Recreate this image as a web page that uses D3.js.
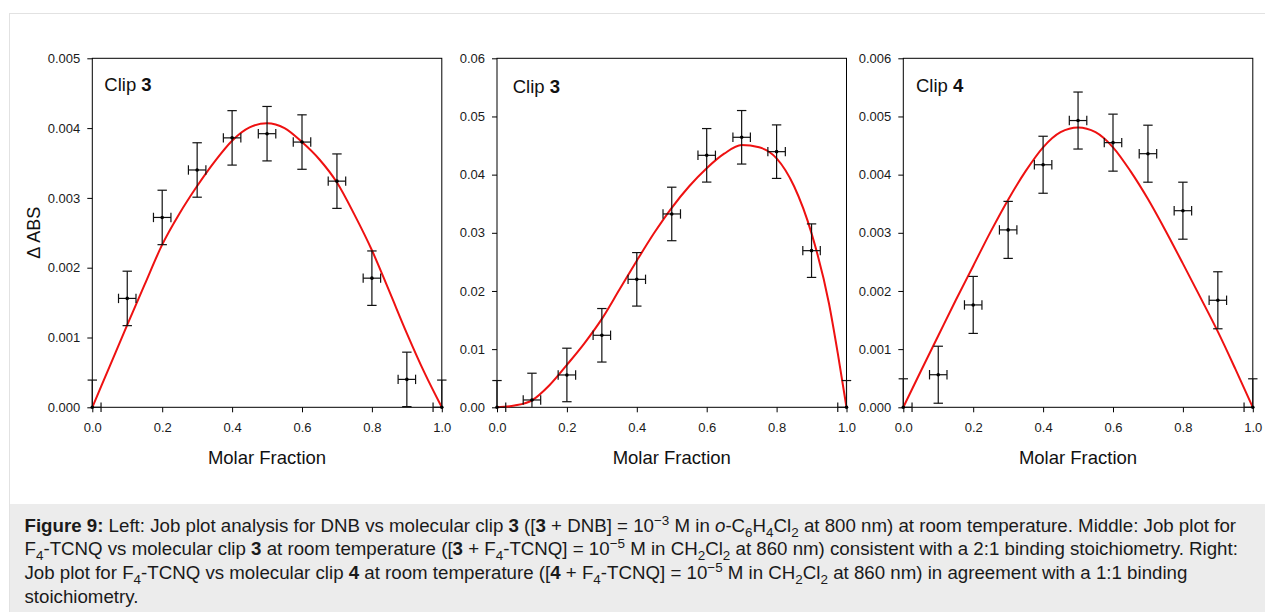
<!DOCTYPE html>
<html><head><meta charset="utf-8">
<script src="https://cdn.jsdelivr.net/npm/d3@7"></script>
<style>
body{margin:0;background:#fff;font-family:"Liberation Sans",Arial,sans-serif;overflow:hidden;}
#frame{position:absolute;left:9px;top:13px;width:1260px;height:605px;border-left:1px solid #e2e2e2;border-top:1px solid #e2e2e2;}
#caption{position:absolute;left:10px;top:504px;width:1255px;height:108px;background:#ececec;}
#captext{position:absolute;left:14.5px;top:9.7px;font-size:18.7px;line-height:23.7px;color:#1a1a1a;white-space:nowrap;}
#captext sup,#captext sub{font-size:72%;line-height:0;}
svg{position:absolute;left:0;top:0;}
</style></head><body>
<div id="frame"></div>
<div id="caption"><div id="captext"><b>Figure 9:</b> Left: Job plot analysis for DNB vs molecular clip <b>3</b> ([<b>3</b> + DNB] = 10<sup>−3</sup> M in <i>o</i>-C<sub>6</sub>H<sub>4</sub>Cl<sub>2</sub> at 800 nm) at room temperature. Middle: Job plot for<br>F<sub>4</sub>-TCNQ vs molecular clip <b>3</b> at room temperature ([<b>3</b> + F<sub>4</sub>-TCNQ] = 10<sup>−5</sup> M in CH<sub>2</sub>Cl<sub>2</sub> at 860 nm) consistent with a 2:1 binding stoichiometry. Right:<br>Job plot for F<sub>4</sub>-TCNQ vs molecular clip <b>4</b> at room temperature ([<b>4</b> + F<sub>4</sub>-TCNQ] = 10<sup>−5</sup> M in CH<sub>2</sub>Cl<sub>2</sub> at 860 nm) in agreement with a 1:1 binding<br>stoichiometry.</div></div>
<svg id="chart" width="1265" height="612"></svg>
<script>
// ---------- DATA ----------
const molarFraction = [0, 0.1, 0.2, 0.3, 0.4, 0.5, 0.6, 0.7, 0.8, 0.9, 1.0];
const xError = [0.025, 0.025, 0.025, 0.025, 0.025, 0.025, 0.025, 0.025, 0.025, 0.025, 0.025];

// Left: DNB vs clip 3
const absDNBClip3 = [0, 0.00156, 0.00272, 0.00340, 0.00386, 0.00392, 0.00380, 0.00324, 0.00185, 0.00040, 0];
const errDNBClip3 = [0.00039, 0.00039, 0.00039, 0.00039, 0.00039, 0.00039, 0.00039, 0.00039, 0.00039, 0.00039, 0.00039];
// Middle: F4-TCNQ vs clip 3
const absF4Clip3 = [0, 0.00126, 0.00556, 0.01238, 0.0220, 0.03324, 0.04332, 0.04642, 0.04395, 0.02693, 0];
const errF4Clip3 = [0.0046, 0.0046, 0.0046, 0.0046, 0.0046, 0.0046, 0.0046, 0.0046, 0.0046, 0.0046, 0.0046];
// Right: F4-TCNQ vs clip 4
const absF4Clip4 = [0, 0.00056, 0.00176, 0.00305, 0.00417, 0.00493, 0.00455, 0.00436, 0.00338, 0.00184, 0];
const errF4Clip4 = [0.00049, 0.00049, 0.00049, 0.00049, 0.00049, 0.00049, 0.00049, 0.00049, 0.00049, 0.00049, 0.00049];

// Fitted curves
const fitX1 = [0, 0.05, 0.1, 0.15, 0.2, 0.25, 0.3, 0.35, 0.4, 0.45, 0.5, 0.55, 0.6, 0.65, 0.7, 0.75, 0.8, 0.85, 0.9, 0.95, 1.0];
const fitDNBClip3 = [0, 0.00059, 0.00118, 0.00176, 0.00233, 0.00278, 0.00317, 0.00352, 0.00382, 0.00401, 0.00407, 0.00400, 0.00380, 0.00355, 0.00322, 0.00276, 0.00225, 0.00166, 0.00106, 0.00050, 0];
const fitX2 = [0, 0.05, 0.1, 0.15, 0.2, 0.25, 0.3, 0.35, 0.4, 0.45, 0.5, 0.55, 0.6, 0.65, 0.7, 0.75, 0.8, 0.85, 0.9, 0.95, 0.975, 1.0];
const fitF4Clip3 = [0, 0.0003, 0.0012, 0.0038, 0.0073, 0.0110, 0.0152, 0.0202, 0.0252, 0.0300, 0.0343, 0.0380, 0.0411, 0.0436, 0.0451, 0.0447, 0.0428, 0.0380, 0.0299, 0.0178, 0.0093, 0];
const fitX3 = [0, 0.05, 0.1, 0.15, 0.2, 0.25, 0.3, 0.35, 0.4, 0.45, 0.5, 0.55, 0.6, 0.65, 0.7, 0.75, 0.8, 0.85, 0.9, 0.95, 1.0];
const fitF4Clip4 = [0, 0.00062, 0.00123, 0.00184, 0.00243, 0.00302, 0.00357, 0.00406, 0.00447, 0.00473, 0.00481, 0.00473, 0.00447, 0.00406, 0.00358, 0.00304, 0.00247, 0.00189, 0.00130, 0.00066, 0];

// Ticks
const xTicks = [0, 0.2, 0.4, 0.6, 0.8, 1.0];
const xTickLabels = ["0.0", "0.2", "0.4", "0.6", "0.8", "1.0"];
const yTicks1 = [0, 0.001, 0.002, 0.003, 0.004, 0.005];
const yTickLabels1 = ["0.000", "0.001", "0.002", "0.003", "0.004", "0.005"];
const yTicks2 = [0, 0.01, 0.02, 0.03, 0.04, 0.05, 0.06];
const yTickLabels2 = ["0.00", "0.01", "0.02", "0.03", "0.04", "0.05", "0.06"];
const yTicks3 = [0, 0.001, 0.002, 0.003, 0.004, 0.005, 0.006];
const yTickLabels3 = ["0.000", "0.001", "0.002", "0.003", "0.004", "0.005", "0.006"];

const panelLabels = [["Clip ", "3"], ["Clip ", "3"], ["Clip ", "4"]];
const xTitle = "Molar Fraction";
const yTitle = "\u0394 ABS";

// ---------- DRAW ----------
const svg = d3.select("#chart");
const TOP = 58.3, BOTTOM = 407.3, WIDTH = 349.5;
const FONT = '"Liberation Sans", Arial, sans-serif';

const panels = [
  {left: 92.3, ymax: 0.005, y: absDNBClip3, e: errDNBClip3, fx: fitX1, fy: fitDNBClip3, yt: yTicks1, yl: yTickLabels1, label: panelLabels[0], ldx: 12, ldy: 91, ytitle: true},
  {left: 497, ymax: 0.06, y: absF4Clip3, e: errF4Clip3, fx: fitX2, fy: fitF4Clip3, yt: yTicks2, yl: yTickLabels2, label: panelLabels[1], ldx: 15.7, ldy: 92.5, ytitle: false},
  {left: 903.3, ymax: 0.006, y: absF4Clip4, e: errF4Clip4, fx: fitX3, fy: fitF4Clip4, yt: yTicks3, yl: yTickLabels3, label: panelLabels[2], ldx: 12.7, ldy: 92, ytitle: false}
];

panels.forEach(p => {
  const g = svg.append("g");
  const x = d3.scaleLinear().domain([0, 1]).range([p.left, p.left + WIDTH]);
  const y = d3.scaleLinear().domain([0, p.ymax]).range([BOTTOM, TOP]);

  const ax = g.append("g").attr("transform", `translate(0,${BOTTOM})`)
    .call(d3.axisBottom(x).tickValues(xTicks).tickFormat((d, i) => xTickLabels[i]).tickSize(5).tickSizeOuter(0).tickPadding(10));
  const ay = g.append("g").attr("transform", `translate(${p.left},0)`)
    .call(d3.axisLeft(y).tickValues(p.yt).tickFormat((d, i) => p.yl[i]).tickSize(5).tickSizeOuter(0).tickPadding(7));
  [ax, ay].forEach(a => {
    a.select(".domain").remove();
    a.selectAll("text").attr("font-family", FONT).attr("font-size", 13).attr("fill", "#1a1a1a");
    a.selectAll("line").attr("stroke", "#000");
  });

  g.append("rect").attr("x", x(0)).attr("y", y(p.ymax)).attr("width", x(1) - x(0)).attr("height", y(0) - y(p.ymax))
    .attr("fill", "none").attr("stroke", "#000").attr("stroke-width", 1);

  const line = d3.line().x((d, i) => x(p.fx[i])).y(d => y(d)).curve(d3.curveMonotoneX);
  g.append("path").datum(p.fy).attr("d", line).attr("fill", "none").attr("stroke", "#ee1111").attr("stroke-width", 2);

  const cap = 4.7;
  const eb = g.append("g").attr("stroke", "#111").attr("stroke-width", 1.2).attr("fill", "none");
  molarFraction.forEach((mx, i) => {
    const my = p.y[i], ey = p.e[i], ex = xError[i];
    const lo = Math.max(my - ey, 0), hi = Math.min(my + ey, p.ymax);
    eb.append("line").attr("x1", x(mx)).attr("x2", x(mx)).attr("y1", y(lo)).attr("y2", y(hi));
    if (my + ey <= p.ymax) eb.append("line").attr("x1", x(mx) - cap).attr("x2", x(mx) + cap).attr("y1", y(my + ey)).attr("y2", y(my + ey));
    if (my - ey >= 0) eb.append("line").attr("x1", x(mx) - cap).attr("x2", x(mx) + cap).attr("y1", y(my - ey)).attr("y2", y(my - ey));
    const l = Math.max(mx - ex, 0), r = Math.min(mx + ex, 1);
    eb.append("line").attr("x1", x(l)).attr("x2", x(r)).attr("y1", y(my)).attr("y2", y(my));
    if (mx - ex >= 0) eb.append("line").attr("x1", x(mx - ex)).attr("x2", x(mx - ex)).attr("y1", y(my) - cap).attr("y2", y(my) + cap);
    if (mx + ex <= 1) eb.append("line").attr("x1", x(mx + ex)).attr("x2", x(mx + ex)).attr("y1", y(my) - cap).attr("y2", y(my) + cap);
  });
  g.selectAll("circle.pt").data(p.y).join("circle").attr("class", "pt")
    .attr("cx", (d, i) => x(molarFraction[i])).attr("cy", d => y(d)).attr("r", 1.8).attr("fill", "#000");

  const t = g.append("text").attr("x", x(0) + p.ldx).attr("y", p.ldy).attr("font-family", FONT).attr("font-size", 18.5).attr("fill", "#111");
  t.append("tspan").text(p.label[0]);
  t.append("tspan").attr("font-weight", "bold").text(p.label[1]);

  g.append("text").attr("x", (x(0) + x(1)) / 2).attr("y", 463.5).attr("text-anchor", "middle")
    .attr("font-family", FONT).attr("font-size", 18.5).attr("fill", "#111").text(xTitle);

  if (p.ytitle) {
    g.append("text").attr("transform", `translate(40,${(TOP + BOTTOM) / 2}) rotate(-90)`).attr("text-anchor", "middle")
      .attr("font-family", FONT).attr("font-size", 18).attr("fill", "#111").text(yTitle);
  }
});
</script>
</body></html>
